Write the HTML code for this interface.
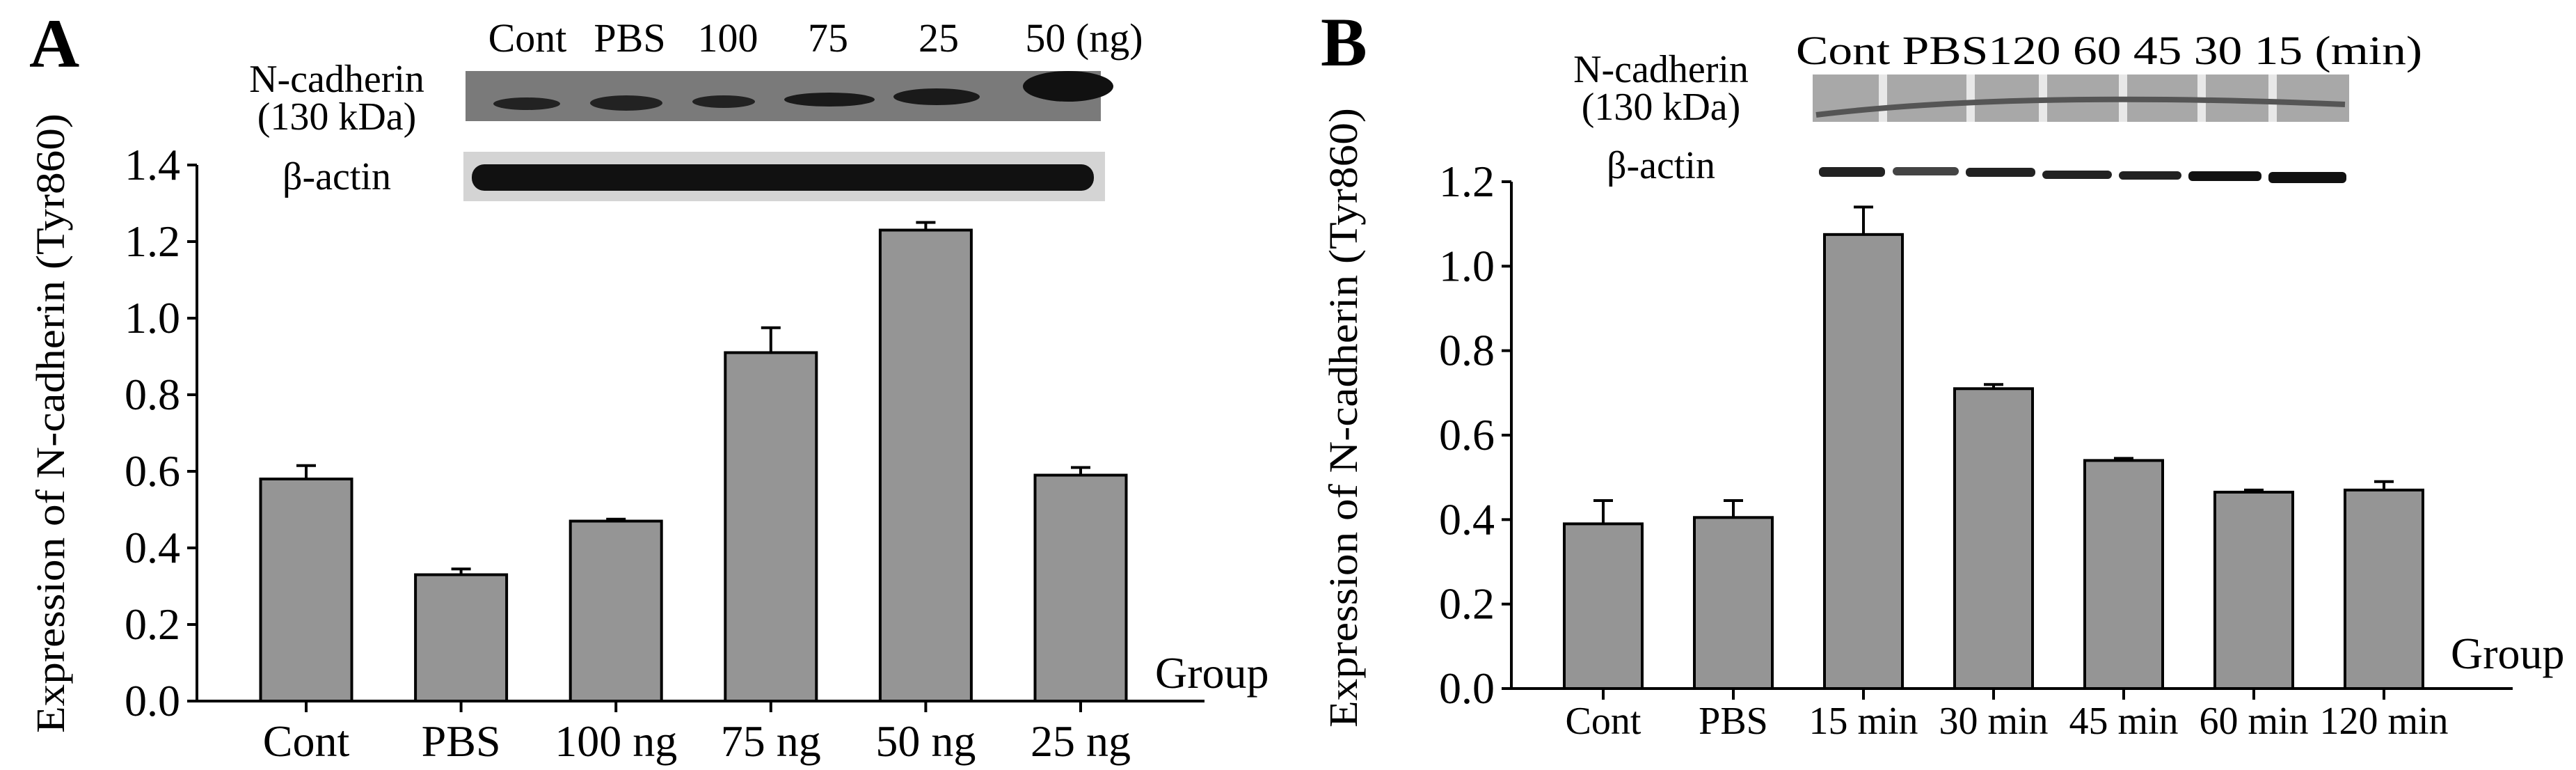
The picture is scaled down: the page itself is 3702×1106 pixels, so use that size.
<!DOCTYPE html>
<html><head><meta charset="utf-8"><style>
html,body{margin:0;padding:0;background:#fff;}
svg{display:block;}
svg text{font-family:"Liberation Serif","DejaVu Serif",serif;}
</style></head><body>
<svg id="fig" width="3702" height="1106" viewBox="0 0 3702 1106" xmlns="http://www.w3.org/2000/svg" font-family="Liberation Serif, serif">
<g id="A">
 <text x="42" y="96" font-size="100" font-weight="bold">A</text>
 <text x="758" y="74" font-size="58" text-anchor="middle">Cont</text>
 <text x="905" y="74" font-size="58" text-anchor="middle">PBS</text>
 <text x="1046" y="74" font-size="58" text-anchor="middle">100</text>
 <text x="1190" y="74" font-size="58" text-anchor="middle">75</text>
 <text x="1349" y="74" font-size="58" text-anchor="middle">25</text>
 <text x="1558" y="74" font-size="58" text-anchor="middle">50 (ng)</text>
 <text x="484" y="132" font-size="56" text-anchor="middle">N-cadherin</text>
 <text x="484" y="186" font-size="56" text-anchor="middle">(130 kDa)</text>
 <text x="484" y="272" font-size="56" text-anchor="middle">β-actin</text>
 <g>
  <rect x="669" y="102" width="913" height="72" fill="#7a7a7a"/>
  <ellipse cx="757" cy="149" rx="48" ry="9" fill="#222"/>
  <ellipse cx="900" cy="148" rx="52" ry="11" fill="#222"/>
  <ellipse cx="1040" cy="146" rx="45" ry="9" fill="#222"/>
  <ellipse cx="1192" cy="143" rx="65" ry="10" fill="#1a1a1a"/>
  <ellipse cx="1346" cy="139" rx="62" ry="12" fill="#1a1a1a"/>
  <ellipse cx="1535" cy="124" rx="65" ry="22" fill="#111"/>
 </g>
 <g>
  <rect x="666" y="218" width="922" height="71" fill="#d4d4d4"/>
  <rect x="678" y="236" width="894" height="38" rx="18" fill="#111"/>
 </g>
</g>
<g id="B">
 <text x="1898" y="94" font-size="100" font-weight="bold">B</text>
 <text x="2581" y="92" font-size="58" textLength="900" lengthAdjust="spacingAndGlyphs">Cont PBS120  60  45  30  15 (min)</text>
 <text x="2387" y="118" font-size="56" text-anchor="middle">N-cadherin</text>
 <text x="2387" y="172" font-size="56" text-anchor="middle">(130 kDa)</text>
 <text x="2387" y="256" font-size="56" text-anchor="middle">β-actin</text>
 <g>
  <rect x="2605" y="107" width="771" height="68" fill="#a8a8a8"/>
  <rect x="2700" y="107" width="12" height="68" fill="#e8e8e8"/>
  <rect x="2826" y="107" width="12" height="68" fill="#e8e8e8"/>
  <rect x="2930" y="107" width="12" height="68" fill="#e8e8e8"/>
  <rect x="3045" y="107" width="12" height="68" fill="#e8e8e8"/>
  <rect x="3158" y="107" width="12" height="68" fill="#e8e8e8"/>
  <rect x="3260" y="107" width="12" height="68" fill="#e8e8e8"/>
  <path d="M2610 165 Q2900 130 3370 150" stroke="#555" stroke-width="8" fill="none"/>
 </g>
 <g>
  <rect x="2614" y="240" width="95" height="14" rx="6" fill="#222"/>
  <rect x="2720" y="240" width="95" height="12" rx="6" fill="#444"/>
  <rect x="2825" y="241" width="100" height="13" rx="6" fill="#222"/>
  <rect x="2935" y="245" width="100" height="12" rx="6" fill="#222"/>
  <rect x="3045" y="246" width="90" height="12" rx="6" fill="#222"/>
  <rect x="3145" y="246" width="105" height="14" rx="6" fill="#111"/>
  <rect x="3260" y="247" width="112" height="16" rx="6" fill="#111"/>
 </g>
</g>
<g id="plots"></g>
</svg>
<script>
const catsA = ["Cont","PBS","100 ng","75 ng","50 ng","25 ng"];
const valsA = [0.58,0.33,0.47,0.91,1.23,0.59];
const errA = [0.035,0.015,0.005,0.065,0.02,0.02];
const ticksA = ["0.0","0.2","0.4","0.6","0.8","1.0","1.2","1.4"];
const catsB = ["Cont","PBS","15 min","30 min","45 min","60 min","120 min"];
const valsB = [0.39,0.405,1.075,0.71,0.54,0.465,0.47];
const errB = [0.055,0.04,0.065,0.01,0.005,0.005,0.02];
const ticksB = ["0.0","0.2","0.4","0.6","0.8","1.0","1.2"];
const NS="http://www.w3.org/2000/svg";
const root=document.getElementById('plots');
function mk(tag,attrs,parent){const e=document.createElementNS(NS,tag);for(const k in attrs)e.setAttribute(k,attrs[k]);parent.appendChild(e);return e;}
function drawPanel(cfg){
 const g=mk('g',{},root);
 
 
 const ymax=parseFloat(cfg.ticks[cfg.ticks.length-1]);
 const y=v=>cfg.y0-(v/ymax)*(cfg.y0-cfg.yTop);
 const x=i=>cfg.x1+i*cfg.step;
 const ya=mk('line',{x1:cfg.ax,y1:cfg.yTop,x2:cfg.ax,y2:cfg.y0,stroke:'#000','stroke-width':4},g);
 
 
 const xa=mk('line',{x1:cfg.ax-2,y1:cfg.y0,x2:cfg.xEnd,y2:cfg.y0,stroke:'#000','stroke-width':4},g);
 
 
 cfg.ticks.forEach(t=>{
  const yy=y(parseFloat(t));
  mk('line',{x1:cfg.ax-14,y1:yy,x2:cfg.ax,y2:yy,stroke:'#000','stroke-width':4},g);
  const tx=mk('text',{x:cfg.ax-24,y:yy+21,'font-size':64,'text-anchor':'end','font-family':'Liberation Serif, serif'},g);
  tx.textContent=t;
  
  
 });
 cfg.cats.forEach((c,i)=>{
  const cx=x(i), v=cfg.vals[i], e=cfg.errs[i];
  mk('line',{x1:cx,y1:cfg.y0,x2:cx,y2:cfg.y0+16,stroke:'#000','stroke-width':4},g);
  const eb=mk('path',{d:`M${cx} ${y(v)} V${y(v+e)} M${cx-14} ${y(v+e)} H${cx+14}`,stroke:'#000','stroke-width':4,fill:'none'},g);
  
  
  const r=mk('rect',{x:cx-cfg.bw/2,y:y(v),width:cfg.bw,height:cfg.y0-y(v),fill:'#959595',stroke:'#000','stroke-width':4},g);
  
  
  const t=mk('text',{x:cx,y:cfg.xLabY,'font-size':cfg.xfs,'text-anchor':'middle','font-family':'Liberation Serif, serif'},g);
  t.textContent=c;
  
  
 });
 const gr=mk('text',{x:cfg.grpX,y:cfg.grpY,'font-size':64,'font-family':'Liberation Serif, serif'},g);
 gr.textContent='Group';
 
 
 const yt=mk('text',{x:0,y:0,'font-size':58,'text-anchor':'middle','font-family':'Liberation Serif, serif',textLength:890,lengthAdjust:'spacingAndGlyphs',transform:`translate(${cfg.ytX},${cfg.ytY}) rotate(-90)`},g);
 yt.textContent='Expression of N-cadherin (Tyr860)';
 
 
}
drawPanel({name:'panel-a',cats:catsA,vals:valsA,errs:errA,ticks:ticksA,ax:283,y0:1007,yTop:237,xEnd:1731,x1:440,step:222.6,bw:131,xLabY:1086,xfs:64,grpX:1660,grpY:988,ytX:92,ytY:608});
drawPanel({name:'panel-b',cats:catsB,vals:valsB,errs:errB,ticks:ticksB,ax:2172,y0:989,yTop:261,xEnd:3611,x1:2304,step:187,bw:112,xLabY:1054,xfs:56,grpX:3522,grpY:960,ytX:1950,ytY:600});
</script>
</body></html>
